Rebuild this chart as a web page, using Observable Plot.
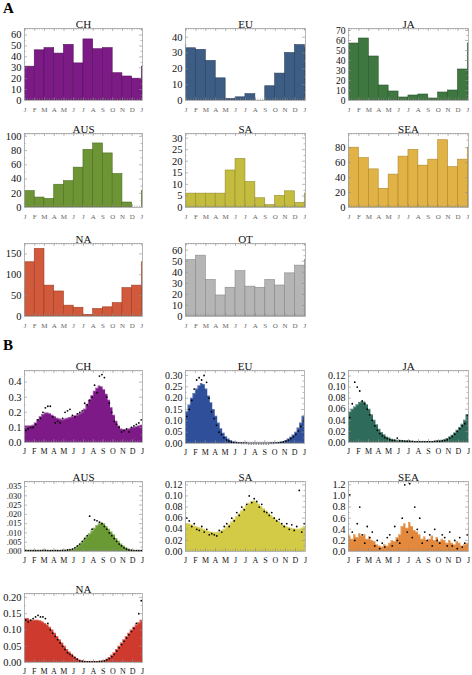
<!DOCTYPE html>
<html>
<head>
<meta charset="utf-8">
<script src="https://cdn.jsdelivr.net/npm/d3@7"></script>
<script src="https://cdn.jsdelivr.net/npm/@observablehq/plot@0.6"></script>
<style>
  html, body { margin: 0; padding: 0; background: #fff; }
  #wrap { position: relative; width: 472px; height: 675px; overflow: hidden; background: #fff; font-family: "Liberation Serif", serif; }
  .tag { position: absolute; font-weight: bold; font-size: 15px; font-family: "Liberation Serif", serif; color: #000; }
  #wrap svg { position: absolute; overflow: visible; }
</style>
</head>
<body>
<div id="wrap">
  <div class="tag" style="left:3px; top:0px;">A</div>
  <div class="tag" style="left:3px; top:337px;">B</div>
</div>
<script>
// ---------- tick labels ----------
const monthLetters = ["J","F","M","A","M","J","J","A","S","O","N","D","J"];

// ---------- Panel A: monthly counts ----------
const aCH  = [31, 46, 48, 43, 51, 34, 56, 47, 48, 25, 22, 20];
const aEU  = [33, 32, 25, 14, 1, 2, 4, 0, 9, 17, 30, 35];
const aJA  = [57, 62, 44, 15, 9, 3, 5, 6, 2, 8, 10, 31];
const aAUS = [23, 14, 12, 32, 37, 56, 81, 90, 76, 47, 7, 0];
const aSA  = [6, 6, 6, 6, 16, 21, 11, 4, 1, 5, 7, 2];
const aSEA = [80, 66, 51, 25, 44, 68, 77, 56, 64, 90, 54, 64];
const aNA  = [130, 162, 74, 60, 26, 21, 4, 18, 22, 32, 68, 74];
const aOT  = [51, 55, 33, 19, 26, 41, 27, 26, 33, 28, 39, 46];

// ---------- Panel B: quarter-month histograms ----------
const bCH = [0.11,0.11,0.11,0.115, 0.13,0.15,0.17,0.185, 0.195,0.195,0.19,0.18, 0.17,0.16,0.155,0.15,
  0.155,0.16,0.165,0.17, 0.175,0.18,0.19,0.2, 0.22,0.25,0.28,0.31, 0.34,0.36,0.375,0.37,
  0.35,0.32,0.28,0.23, 0.18,0.14,0.11,0.09, 0.085,0.085,0.09,0.095, 0.1,0.105,0.11,0.115];
const dCH = [0.08,0.09,0.1,0.1, 0.12,0.15,0.16,0.2, 0.23,0.24,0.24,0.17, 0.13,0.14,0.13,0.16,
  0.2,0.21,0.22,0.18, 0.17,0.19,0.2,0.21, 0.26,0.25,0.28,0.3, 0.38,0.33,0.44,0.45,
  0.43,0.3,0.26,0.2, 0.14,0.12,0.1,0.07, 0.08,0.09,0.07,0.1, 0.11,0.12,0.13,0.15];

const bEU = [0.14,0.17,0.2,0.22, 0.24,0.255,0.265,0.26, 0.24,0.21,0.18,0.15, 0.12,0.09,0.065,0.045,
  0.03,0.02,0.013,0.008, 0.005,0.004,0.003,0.002, 0.002,0.001,0.001,0.001, 0.001,0.001,0.001,0.001,
  0.001,0.001,0.002,0.002, 0.003,0.004,0.006,0.009, 0.013,0.02,0.028,0.038, 0.05,0.068,0.09,0.12];
const dEU = [0.12,0.15,0.19,0.24, 0.28,0.29,0.28,0.3, 0.27,0.2,0.14,0.11, 0.08,0.05,0.04,0.025,
  0.015,0.01,0.006,0.004, 0.003,0.002,0.001,0.001, 0.001,0,0,0, 0,0,0,0,
  0,0,0.001,0.001, 0.002,0.003,0.005,0.007, 0.01,0.015,0.022,0.03, 0.04,0.055,0.075,0.1];

const bJA = [0.055,0.06,0.064,0.068, 0.072,0.074,0.073,0.068, 0.06,0.05,0.04,0.032, 0.024,0.018,0.014,0.01,
  0.008,0.006,0.005,0.004, 0.004,0.003,0.003,0.003, 0.003,0.002,0.002,0.002, 0.002,0.002,0.002,0.002,
  0.002,0.002,0.002,0.003, 0.003,0.004,0.005,0.007, 0.01,0.013,0.017,0.022, 0.027,0.033,0.04,0.05];
const dJA = [0.045,0.07,0.109,0.1, 0.093,0.075,0.07,0.06, 0.05,0.04,0.03,0.022, 0.016,0.012,0.009,0.007,
  0.005,0.004,0.004,0.008, 0.003,0.003,0.002,0.002, 0.002,0.002,0.001,0.001, 0.001,0.001,0.001,0.001,
  0.001,0.001,0.002,0.002, 0.002,0.003,0.004,0.005, 0.008,0.011,0.015,0.02, 0.025,0.03,0.034,0.049];

const bAUS = [0.0005,0.0005,0.0005,0.0005, 0.0005,0.0005,0.0005,0.0005, 0.0006,0.0006,0.0006,0.0006, 0.0005,0.0005,0.0005,0.0005,
  0.0005,0.0006,0.0008,0.001, 0.0015,0.0025,0.0035,0.005, 0.0065,0.008,0.0095,0.011, 0.0125,0.014,0.015,0.0155,
  0.015,0.0135,0.012,0.0105, 0.009,0.007,0.0055,0.004, 0.003,0.002,0.0013,0.0008, 0.0006,0.0005,0.0005,0.0005];
const dAUS = [0.0006,0.0005,0.0005,0.0004, 0.0004,0.0005,0.0005,0.0006, 0.0006,0.0005,0.0004,0.0005, 0.0005,0.0004,0.0005,0.0006,
  0.0006,0.0008,0.001,0.0013, 0.002,0.003,0.004,0.0055, 0.007,0.0085,0.019,0.012, 0.017,0.0165,0.0158,0.015,
  0.0135,0.012,0.01,0.0085, 0.007,0.0055,0.004,0.003, 0.002,0.0012,0.0008,0.0006, 0.0005,0.0005,0.0004,0.0005];

const bSA = [0.05,0.05,0.048,0.046, 0.045,0.043,0.042,0.04, 0.038,0.036,0.035,0.034, 0.034,0.035,0.037,0.04,
  0.044,0.048,0.053,0.058, 0.063,0.068,0.073,0.078, 0.083,0.087,0.09,0.091, 0.089,0.085,0.081,0.077,
  0.073,0.069,0.065,0.061, 0.057,0.054,0.05,0.047, 0.045,0.043,0.042,0.041, 0.04,0.04,0.042,0.045];
const dSA = [0.06,0.055,0.045,0.05, 0.04,0.038,0.045,0.035, 0.04,0.03,0.032,0.03, 0.028,0.038,0.035,0.045,
  0.05,0.045,0.06,0.055, 0.07,0.065,0.08,0.075, 0.085,0.1,0.088,0.095, 0.09,0.08,0.085,0.072,
  0.07,0.065,0.07,0.06, 0.055,0.058,0.05,0.045, 0.05,0.04,0.048,0.038, 0.045,0.11,0.035,0.05];

const bSEA = [0.28,0.22,0.3,0.25, 0.32,0.28,0.3,0.22, 0.26,0.2,0.18,0.12, 0.1,0.08,0.12,0.1,
  0.15,0.2,0.18,0.25, 0.3,0.45,0.5,0.42, 0.52,0.45,0.38,0.35, 0.3,0.22,0.26,0.2,
  0.22,0.28,0.2,0.25, 0.18,0.22,0.2,0.15, 0.2,0.15,0.12,0.18, 0.15,0.1,0.12,0.15];
const dSEA = [1.02,0.35,0.2,0.5, 0.8,0.3,0.15,0.45, 0.25,0.35,0.1,0.2, 0.05,0.15,0.08,0.25,
  0.3,0.1,0.45,0.2, 0.15,0.6,1.2,0.35, 1.22,0.25,0.8,0.4, 0.6,0.15,0.35,0.2,
  0.3,0.1,0.4,0.2, 0.15,0.3,0.25,0.1, 0.35,0.1,0.2,0.05, 0.25,0.08,0.15,0.3];

const bNA = [0.135,0.135,0.13,0.13, 0.13,0.13,0.128,0.125, 0.12,0.115,0.108,0.1, 0.09,0.08,0.07,0.06,
  0.05,0.04,0.032,0.025, 0.018,0.012,0.008,0.005, 0.004,0.003,0.003,0.003, 0.003,0.003,0.003,0.004,
  0.006,0.01,0.015,0.022, 0.03,0.04,0.05,0.06, 0.07,0.08,0.09,0.1, 0.108,0.115,0.122,0.13];
const dNA = [0.13,0.125,0.13,0.135, 0.14,0.145,0.14,0.14, 0.135,0.12,0.1,0.09, 0.08,0.07,0.06,0.05,
  0.04,0.03,0.025,0.02, 0.015,0.01,0.005,0.003, 0.002,0.002,0.002,0.002, 0.002,0.002,0.003,0.003,
  0.005,0.008,0.012,0.018, 0.025,0.035,0.045,0.055, 0.065,0.075,0.085,0.095, 0.105,0.12,0.15,0.19];

// ---------- y tick values ----------
const tCH = [0,10,20,30,40,50,60], tEU = [0,10,20,30,40], tJA = [0,10,20,30,40,50,60,70];
const tAUS = [0,20,40,60,80,100], tSA = [0,5,10,15,20,25,30], tSEA = [0,20,40,60,80];
const tNA = [0,50,100,150], tOT = [0,10,20,30,40,50,60];
const uCH = [0,0.1,0.2,0.3,0.4], uEU = [0,0.05,0.1,0.15,0.2,0.25,0.3];
const uJA = [0,0.02,0.04,0.06,0.08,0.1,0.12], uAUS = [0,0.005,0.01,0.015,0.02,0.025,0.03,0.035];
const uSA = [0,0.02,0.04,0.06,0.08,0.1,0.12], uSEA = [0,0.2,0.4,0.6,0.8,1,1.2], uNA = [0,0.05,0.1,0.15,0.2];

const wrap = document.getElementById("wrap");
const mL = 36, mR = 6, mT = 16, mB = 18;

function frameTicks(yTicks, w, h, nx) {
  const majX = d3.range(nx + 1);
  const minX = d3.range(0, nx * 4 + 1).map(i => i / 4);
  const minY = [];
  for (let i = 0; i < yTicks.length; i++) {
    const a = yTicks[i], b = yTicks[i + 1] !== undefined ? yTicks[i + 1] : a + (yTicks[1] - yTicks[0]);
    minY.push((a + b) / 2);
  }
  const st = {stroke: "#8c8c8c", strokeWidth: 0.6, clip: true};
  return [
    Plot.ruleY(yTicks, {y: d => d, insetRight: w - 3, ...st}),
    Plot.ruleY(yTicks, {y: d => d, insetLeft: w - 3, ...st}),
    Plot.ruleY(minY, {y: d => d, insetRight: w - 1.5, ...st}),
    Plot.ruleY(minY, {y: d => d, insetLeft: w - 1.5, ...st}),
    Plot.ruleX(majX, {x: d => d, insetTop: h - 3, ...st}),
    Plot.ruleX(majX, {x: d => d, insetBottom: h - 3, ...st}),
    Plot.ruleX(minX, {x: d => d, insetTop: h - 1.5, ...st}),
    Plot.ruleX(minX, {x: d => d, insetBottom: h - 1.5, ...st})
  ];
}

function panel(p) {
  const w = p.R - p.L, h = p.B - p.T;
  const svg = Plot.plot({
    width: w + mL + mR, height: h + mT + mB,
    marginLeft: mL, marginRight: mR, marginTop: mT, marginBottom: mB,
    x: {domain: p.xDomain, axis: null},
    y: {domain: p.yDomain, axis: null},
    style: {fontFamily: "'Liberation Serif', serif", background: "transparent", overflow: "visible", color: "#111"},
    marks: [
      ...p.marks,
      ...frameTicks(p.yTicks, w, h, 12),
      Plot.frame({stroke: "#a3a3a3", strokeWidth: 0.8}),
      Plot.axisY({ticks: p.yTicks, tickSize: 0, tickPadding: 3, tickFormat: p.fmt, fontSize: p.yFont || 10.5, label: null}),
      Plot.axisX({ticks: d3.range(13), tickSize: 0, tickPadding: p.xPad, tickFormat: i => monthLetters[i],
                  fontSize: p.xFont, color: p.xFill, label: null}),
      Plot.text([p.title], {text: d => d, frameAnchor: "top", dy: -8, fontSize: 11, fill: "#111"})
    ]
  });
  svg.style.left = (p.L - mL) + "px";
  svg.style.top = (p.T - mT) + "px";
  wrap.appendChild(svg);
}

function barsA(vals, fill, stroke) {
  const rows = vals.map((v, i) => ({i, v}));
  rows.push({i: 12, v: vals[0]});          // January repeated at the right edge
  rows.unshift({i: -1, v: vals[11]});      // December repeated at the left edge
  return [Plot.rectY(rows, {x1: d => d.i, x2: d => d.i + 1, y: d => d.v, fill, stroke, strokeWidth: 0.6, clip: true})];
}
function histB(vals, dots, fill) {
  const rows = vals.map((v, i) => ({x: i / 4, v}));
  rows.push({x: 12, v: vals[vals.length - 1]});
  const pts = dots.map((v, i) => ({x: (i + 0.5) / 4, v}));
  return [
    Plot.areaY(rows, {x: "x", y: "v", curve: "step-after", fill}),
    Plot.lineY(rows, {x: "x", y: "v", curve: "step-after", stroke: "#fff", strokeOpacity: 0.35, strokeWidth: 0.7}),
    Plot.dot(pts, {x: "x", y: "v", r: 0.9, fill: "#000", stroke: "none"})
  ];
}

const fInt = d3.format("d"), f1 = d3.format(".1f"), f2 = d3.format(".2f");
const f3 = d => d3.format(".3f")(d).replace(/^0/, "");
const A = {xDomain: [-0.05, 12.06], xPad: 7, xFont: 7, xFill: "#666", fmt: fInt};
const Bp = {xDomain: [0, 12], xPad: 6, xFont: 8, xFill: "#111"};

// Panel A
panel({...A, title: "CH", L: 24, R: 142, T: 28, B: 100, yDomain: [0, 66], yTicks: tCH, marks: barsA(aCH, "#7c1b86", "#56105e")});
panel({...A, title: "EU", L: 185, R: 305, T: 28, B: 100, yDomain: [0, 45.5], yTicks: tEU, marks: barsA(aEU, "#3e5d84", "#293f5e")});
panel({...A, title: "JA", L: 348, R: 468, T: 28, B: 100, yDomain: [0, 72], yTicks: tJA, yFont: 9.5, marks: barsA(aJA, "#3f7741", "#2a542b")});
panel({...A, title: "AUS", L: 24, R: 142, T: 133, B: 207, yDomain: [0, 104], yTicks: tAUS, marks: barsA(aAUS, "#6e9535", "#4d6d20")});
panel({...A, title: "SA", L: 185, R: 305, T: 133, B: 207, yDomain: [0, 32], yTicks: tSA, marks: barsA(aSA, "#c3bc3f", "#948e28")});
panel({...A, title: "SEA", L: 348, R: 468, T: 133, B: 207, yDomain: [0, 99], yTicks: tSEA, marks: barsA(aSEA, "#e1b347", "#b08629")});
panel({...A, title: "NA", L: 24, R: 142, T: 243, B: 316, yDomain: [0, 175], yTicks: tNA, marks: barsA(aNA, "#d05a3b", "#9e3d24")});
panel({...A, title: "OT", L: 185, R: 305, T: 243, B: 316, yDomain: [0, 66], yTicks: tOT, marks: barsA(aOT, "#b5b5b5", "#888")});

// Panel B
panel({...Bp, title: "CH", L: 24, R: 142, T: 370, B: 442, yDomain: [0, 0.477], yTicks: uCH, fmt: f1, marks: histB(bCH, dCH, "#7e1a88")});
panel({...Bp, title: "EU", L: 185, R: 304, T: 370, B: 443, yDomain: [0, 0.322], yTicks: uEU, fmt: f2, yFont: 10, marks: histB(bEU, dEU, "#2f4f9b")});
panel({...Bp, title: "JA", L: 348, R: 468, T: 370, B: 442, yDomain: [0, 0.13], yTicks: uJA, fmt: f2, yFont: 10, marks: histB(bJA, dJA, "#2f6b5b")});
panel({...Bp, title: "AUS", L: 24, R: 142, T: 481, B: 551, yDomain: [0, 0.0377], yTicks: uAUS, fmt: f3, yFont: 8.5, marks: histB(bAUS, dAUS, "#6a9a33")});
panel({...Bp, title: "SA", L: 185, R: 305, T: 481, B: 551, yDomain: [0, 0.126], yTicks: uSA, fmt: f2, yFont: 10, marks: histB(bSA, dSA, "#d3cb45")});
panel({...Bp, title: "SEA", L: 348, R: 468, T: 481, B: 551, yDomain: [0, 1.26], yTicks: uSEA, fmt: f1, marks: histB(bSEA, dSEA, "#e2893d")});
panel({...Bp, title: "NA", L: 24, R: 142, T: 593, B: 662, yDomain: [0, 0.212], yTicks: uNA, fmt: f2, marks: histB(bNA, dNA, "#cf3a2f")});
</script>
</body>
</html>
